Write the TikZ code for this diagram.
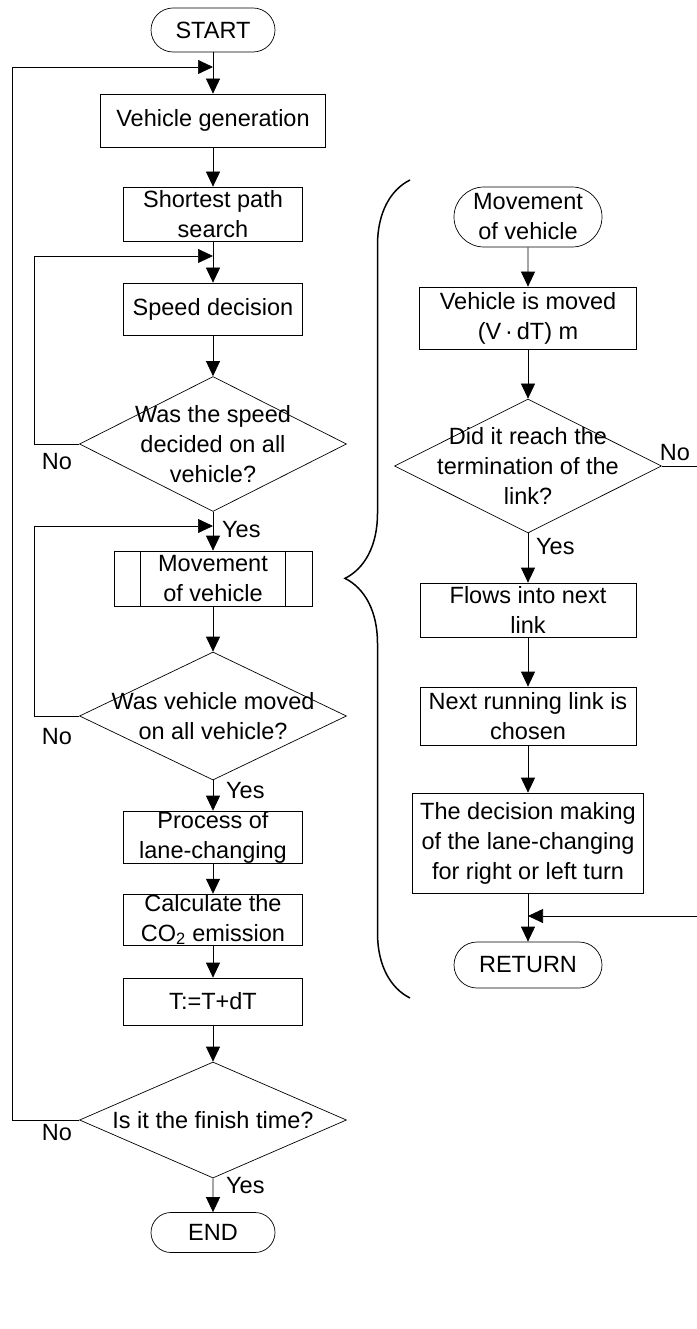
\documentclass[tikz,border=0pt]{standalone}
\usepackage{fontspec}
\setmainfont{Liberation Sans}
\usetikzlibrary{shapes.geometric,shapes.misc,arrows.meta,decorations.pathreplacing}

\begin{document}
\begin{tikzpicture}[x=1pt,y=-1pt,
	every node/.style={font=\fontsize{23.5}{30}\selectfont, align=center, inner sep=0pt},
	box/.style={rectangle, draw=black, line width=0.7pt, minimum width=179pt, minimum height=50pt},
	term/.style={rounded rectangle, draw=black, line width=0.7pt, minimum width=124pt, minimum height=44pt},
	decision/.style={diamond, draw=black, line width=0.7pt, minimum width=267pt, minimum height=135pt},
	flow/.style={draw=black, line width=0.7pt, -{Triangle[length=15pt,width=14pt]}},
	line/.style={draw=black, line width=0.7pt}]
	\useasboundingbox (0,0) rectangle (696,1329);

	% main loop
	\node[term] (start) at (213,30) {START};
	\node[box, minimum width=225pt, minimum height=53pt] (vgen) at (213,120.5) {Vehicle generation};
	\node[box, minimum height=54pt] (path) at (213,214) {Shortest path\\search};
	\node[box, minimum height=52pt] (speed) at (213,309) {Speed decision};
	\node[decision] (spdq) at (213,444) {};
	\node (spdqtxt) at (spdq) {Was the speed\\decided on all\\vehicle?};
	\node[box, minimum width=198pt, minimum height=55pt] (move) at (213,578.5) {Movement\\of vehicle};
	\draw[line] ([xshift=27pt]move.north west) -- ([xshift=27pt]move.south west)
		([xshift=-27pt]move.north east) -- ([xshift=-27pt]move.south east);
	\node[decision, minimum height=128pt] (movq) at (213,716) {};
	\node (movqtxt) at (movq) {Was vehicle moved\\on all vehicle?};
	\node[box, minimum height=48pt] (lane) at (213,837) {Process of\\lane-changing};
	\node[box, minimum height=47pt] (co2) at (213,919.5) {Calculate the\\CO\textsubscript{2} emission};
	\node[box, minimum height=47pt] (time) at (213,1001.5) {T:=T+dT};
	\node[decision, minimum height=116pt] (finq) at (213,1120) {};
	\node (finqtxt) at (finq) {Is it the finish time?};
	\node[term, minimum height=40pt] (end) at (213,1232.5) {END};

	\coordinate (j1) at (213,67);
	\coordinate (j2) at (213,256);
	\coordinate (j3) at (213,526);

	\draw[line] (start) -- (j1);
	\draw[flow] (j1) -- (vgen);
	\draw[flow] (vgen) -- (path);
	\draw[line] (path) -- (j2);
	\draw[flow] (j2) -- (speed);
	\draw[flow] (speed) -- (spdq);
	\draw[line] (spdq) -- (j3);
	\draw[flow] (j3) -- (move);
	\draw[flow] (move) -- (movq);
	\draw[flow] (movq) -- (lane);
	\draw[flow] (lane) -- (co2);
	\draw[flow] (co2) -- (time);
	\draw[flow] (time) -- (finq);
	\draw[flow] (finq) -- (end);
	\draw[flow] (spdq.west) -- ++(-45,0) |- (j2);
	\draw[flow] (movq.west) -- ++(-45,0) |- (j3);
	\draw[flow] (finq.west) -- ++(-67,0) |- (j1);

	\node[anchor=west] (yes1) at (222,530) {Yes};
	\node[anchor=west] (yes2) at (226,791) {Yes};
	\node[anchor=west] (yes3) at (226,1186) {Yes};
	\node (no1) at (57,462) {No};
	\node (no2) at (57,737) {No};
	\node (no3) at (57,1133) {No};

	% movement of vehicle
	\node[term, minimum width=148pt, minimum height=60pt] (mstart) at (528,217) {Movement\\of vehicle};
	\node[box, minimum width=217pt, minimum height=62pt] (moved) at (528,318) {Vehicle is moved\\(V\,·\,dT) m};
	\node[decision, minimum height=134pt] (endq) at (528,466) {};
	\node (endqtxt) at (endq) {Did it reach the\\termination of the\\link?};
	\node[box, minimum width=216pt, minimum height=54pt] (flows) at (528,610) {Flows into next\\link};
	\node[box, minimum width=216pt, minimum height=58pt] (next) at (528,716) {Next running link is\\chosen};
	\node[box, minimum width=231pt, minimum height=100pt] (lcd) at (528,843) {The decision making\\of the lane-changing\\for right or left turn};
	\node[term, minimum width=148pt, minimum height=46pt] (ret) at (528,965) {RETURN};
	\coordinate (j4) at (528,916);

	\draw[flow] (mstart) -- (moved);
	\draw[flow] (moved) -- (endq);
	\draw[flow] (endq) -- (flows);
	\draw[flow] (flows) -- (next);
	\draw[flow] (next) -- (lcd);
	\draw[line] (lcd) -- (j4);
	\draw[flow] (j4) -- (ret);
	\draw[flow] (endq.east) -- ++(35,0) |- (j4);

	\node[anchor=west] (yes4) at (536,547) {Yes};
	\node (no4) at (675,453) {No};

	\draw[line width=1.5pt, decorate, decoration={brace, amplitude=65pt, aspect=0.513}] (410,998) -- (410,180);

\end{tikzpicture}
\end{document}
